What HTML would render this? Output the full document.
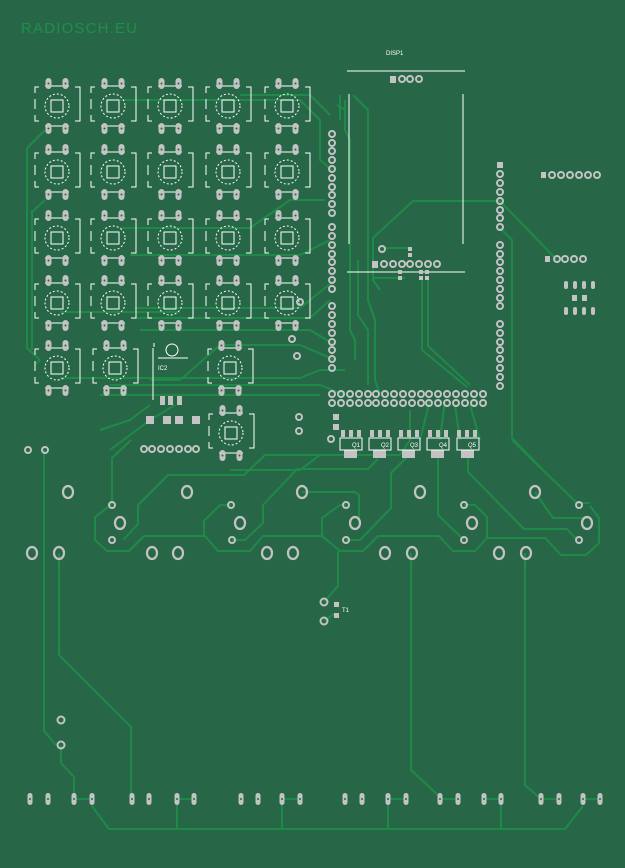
<!DOCTYPE html>
<html><head><meta charset="utf-8"><style>html,body{margin:0;padding:0;background:#276748}svg{display:block}</style></head><body>
<svg width="625" height="868" viewBox="0 0 625 868" xmlns="http://www.w3.org/2000/svg">
<defs>
<g id="sw">
 <g fill="none" stroke="#fff" stroke-width="1">
  <path d="M-18,-19 h-4 v6 M-22,-7 v10 M-22,9 v6 h4 M18,-19 h5 v34 h-5 M-12,20 h24 M-12,-20 h24"/>
  <circle r="12" stroke-dasharray="2,2"/>
  <rect x="-6" y="-6" width="12" height="12"/>
 </g>
 <g fill="#c3c3c3">
  <rect x="-11.5" y="-28" width="6" height="11" rx="3"/><rect x="5.5" y="-28" width="6" height="11" rx="3"/>
  <rect x="-11.5" y="17" width="6" height="11" rx="3"/><rect x="5.5" y="17" width="6" height="11" rx="3"/>
 </g>
 <g fill="#276748"><circle cx="-8.5" cy="-22.5" r="1"/><circle cx="8.5" cy="-22.5" r="1"/><circle cx="-8.5" cy="22.5" r="1"/><circle cx="8.5" cy="22.5" r="1"/></g>
</g>
<g id="p"><circle r="3" fill="none" stroke="#c3c3c3" stroke-width="2"/></g>
<g id="bh"><ellipse rx="5" ry="6" fill="none" stroke="#c3c3c3" stroke-width="2.2"/></g>
<g id="op"><rect x="-2.5" y="-6" width="5" height="12" rx="2.5" fill="#c3c3c3"/><circle r="1" fill="#276748"/></g>
</defs>
<text x="21" y="33" font-family="Liberation Sans, sans-serif" font-size="15" fill="#1f8f48" textLength="116">RADIOSCH.EU</text>

<g fill="none" stroke="#1f8a47" stroke-width="2" stroke-linejoin="round">
 <path d="M27,148 V348 L40,360 M32,210 V350 M45,130 L27,148 M45,200 L32,212"/>
 <path d="M120,100 H300 L320,120 V160 L332,170 M240,95 H310 L330,115"/>
 <path d="M120,228 H250 L290,200 L325,200 M130,255 H300 L330,240"/>
 <path d="M135,318 H310 L330,300 M135,308 H300 L335,280 M60,312 H180 M140,330 L310,330 L335,345"/>
 <path d="M60,378 H300 L320,370 L345,370 M110,385 H320 L345,395 M100,395 H320"/>
 <path d="M150,380 L180,380 L220,345 L300,345 L335,360"/>
 <path d="M345,100 V130 L350,140 V330 L355,340 V360 M340,95 V120 M337,105 L345,110"/>
 <path d="M353,95 L368,110 V300 L375,320 V380 L380,394 M358,260 V315 L368,330 V385"/>
 <path d="M500,201 H413 L373,238 V280 L380,290 M373,278 H405 M500,201 L557,260"/>
 <path d="M500,228 L512,240 V438 L543,470"/>
 <path d="M422,278 V350 L467,387 M428,278 V346 L470,385"/>
 <path d="M385,248 H410"/>
 <path d="M40,360 L35,365 M100,430 L130,420 L150,405 M110,450 L150,420 L175,405"/>
 <path d="M300,455 H400 L410,440 V410 M420,440 L430,400 M440,440 L445,400 M460,440 L455,405 M480,440 L470,405"/>
 <path d="M230,470 H300 L320,455"/>
 <path d="M112,504 V458 L131,440"/>
 <path d="M112,504 L95,517 V540 L107,551 H129 L144,536 H205 L218,551 H250 L263,536 H322 L340,551 H363 L378,536 H439 L453,551 H475 L487,538 H545 L561,555 H586 L599,543 V518 L590,506"/>
 <path d="M123,540 L138,524 V505 L168,475 H244 L265,455 H355"/>
 <path d="M232,540 H245 L263,523 V505 L297,469 H368 L378,459"/>
 <path d="M231,505 H220 L204,521 V536"/>
 <path d="M302,492 H355 L359,495 V520"/>
 <path d="M346,540 H360 L391,508 V473 L408,456"/>
 <path d="M346,505 H340 L322,518 V536"/>
 <path d="M338,551 V586 L324,602 M324,621 L334,614"/>
 <path d="M438,455 V515 L464,540"/>
 <path d="M464,505 H475 L487,517 V538"/>
 <path d="M468,455 V472 L524,529 H567 L577,540"/>
 <path d="M512,440 L577,503 H590"/>
 <path d="M535,492 L553,518 H587"/>
 <path d="M44,450 V731 L56,745"/>
 <path d="M61,745 V763 L74,777 V799"/>
 <path d="M59,553 V655 L131,727 V799"/>
 <path d="M411,553 V770 L440,797"/>
 <path d="M525,553 V785 L541,799"/>
 <path d="M92,806 L109,829 H565 L583,806 M177,799 V829 M282,799 V829 M388,799 V829 M501,799 V829"/>
 <path d="M74,799 H92 M177,799 H194 M282,799 H300 M388,799 H406 M440,799 H458 M484,799 H501 M541,799 H559 M583,799 H600"/>
</g>

<g>
 <use href="#sw" x="57" y="106"/><use href="#sw" x="113" y="106"/><use href="#sw" x="170" y="106"/><use href="#sw" x="228" y="106"/><use href="#sw" x="287" y="106"/>
 <use href="#sw" x="57" y="172"/><use href="#sw" x="113" y="172"/><use href="#sw" x="170" y="172"/><use href="#sw" x="228" y="172"/><use href="#sw" x="287" y="172"/>
 <use href="#sw" x="57" y="238"/><use href="#sw" x="113" y="238"/><use href="#sw" x="170" y="238"/><use href="#sw" x="228" y="238"/><use href="#sw" x="287" y="238"/>
 <use href="#sw" x="57" y="303"/><use href="#sw" x="113" y="303"/><use href="#sw" x="170" y="303"/><use href="#sw" x="228" y="303"/><use href="#sw" x="287" y="303"/>
 <use href="#sw" x="57" y="368"/><use href="#sw" x="115" y="368"/><use href="#sw" x="230" y="368"/><use href="#sw" x="231" y="433"/>
</g>
<g fill="none" stroke="#fff" stroke-width="1">
 <circle cx="172" cy="350" r="6"/><path d="M153,348 V400 M158,358 H188 M154,343 v4"/>
</g>
<text x="158" y="370" font-family="Liberation Sans, sans-serif" font-size="6" fill="#fff">IC2</text>
<g fill="#c3c3c3"><rect x="160" y="396" width="5" height="9"/><rect x="168" y="396" width="5" height="9"/><rect x="177" y="396" width="5" height="9"/>
<rect x="146" y="416" width="8" height="8"/><rect x="163" y="416" width="8" height="8"/><rect x="175" y="416" width="8" height="8"/><rect x="192" y="416" width="8" height="8"/></g>
<g><use href="#p" x="144" y="449"/><use href="#p" x="152" y="449"/><use href="#p" x="161" y="449"/><use href="#p" x="170" y="449"/><use href="#p" x="179" y="449"/><use href="#p" x="188" y="449"/><use href="#p" x="196" y="449"/>
<use href="#p" x="28" y="450"/><use href="#p" x="45" y="450"/><use href="#p" x="299" y="417"/><use href="#p" x="299" y="431"/><use href="#p" x="292" y="339"/><use href="#p" x="297" y="356"/><use href="#p" x="300" y="302"/></g>

<g stroke="#fff" stroke-width="1" fill="none"><path d="M347,71 H465 M349,94 V244 M463,94 V244 M347,272 H465"/></g>
<text x="386" y="55" font-family="Liberation Sans, sans-serif" font-size="6" fill="#fff">DISP1</text>
<rect x="390" y="76" width="6" height="7" fill="#c3c3c3"/>
<g><use href="#p" x="402" y="79"/><use href="#p" x="410" y="79"/><use href="#p" x="419" y="79"/></g>
<rect x="372" y="261" width="6" height="7" fill="#c3c3c3"/>
<g><use href="#p" x="384" y="264"/><use href="#p" x="393" y="264"/><use href="#p" x="402" y="264"/><use href="#p" x="410" y="264"/><use href="#p" x="419" y="264"/><use href="#p" x="428" y="264"/><use href="#p" x="437" y="264"/><use href="#p" x="382" y="249"/></g>
<g fill="#c3c3c3"><rect x="408" y="247" width="4" height="4"/><rect x="408" y="253" width="4" height="4"/><rect x="398" y="270" width="4" height="4"/><rect x="398" y="276" width="4" height="4"/><rect x="419" y="270" width="4" height="4"/><rect x="425" y="270" width="4" height="4"/><rect x="419" y="276" width="4" height="4"/><rect x="425" y="276" width="4" height="4"/></g>

<g>
 <use href="#p" x="332" y="134"/><use href="#p" x="332" y="143"/><use href="#p" x="332" y="151"/><use href="#p" x="332" y="160"/><use href="#p" x="332" y="169"/><use href="#p" x="332" y="178"/><use href="#p" x="332" y="187"/><use href="#p" x="332" y="195"/><use href="#p" x="332" y="204"/><use href="#p" x="332" y="213"/>
 <use href="#p" x="332" y="227"/><use href="#p" x="332" y="236"/><use href="#p" x="332" y="245"/><use href="#p" x="332" y="254"/><use href="#p" x="332" y="262"/><use href="#p" x="332" y="271"/><use href="#p" x="332" y="280"/><use href="#p" x="332" y="289"/>
 <use href="#p" x="332" y="306"/><use href="#p" x="332" y="315"/><use href="#p" x="332" y="324"/><use href="#p" x="332" y="333"/><use href="#p" x="332" y="342"/><use href="#p" x="332" y="350"/><use href="#p" x="332" y="359"/><use href="#p" x="332" y="368"/>
</g>
<rect x="497" y="162" width="6" height="6" fill="#c3c3c3"/>
<g>
 <use href="#p" x="500" y="174"/><use href="#p" x="500" y="183"/><use href="#p" x="500" y="192"/><use href="#p" x="500" y="201"/><use href="#p" x="500" y="210"/><use href="#p" x="500" y="218"/><use href="#p" x="500" y="227"/>
 <use href="#p" x="500" y="245"/><use href="#p" x="500" y="254"/><use href="#p" x="500" y="262"/><use href="#p" x="500" y="271"/><use href="#p" x="500" y="280"/><use href="#p" x="500" y="289"/><use href="#p" x="500" y="298"/><use href="#p" x="500" y="306"/>
 <use href="#p" x="500" y="324"/><use href="#p" x="500" y="333"/><use href="#p" x="500" y="342"/><use href="#p" x="500" y="350"/><use href="#p" x="500" y="359"/><use href="#p" x="500" y="368"/><use href="#p" x="500" y="377"/><use href="#p" x="500" y="386"/>
</g>
<g>
 <use href="#p" x="332" y="394"/><use href="#p" x="341" y="394"/><use href="#p" x="350" y="394"/><use href="#p" x="359" y="394"/><use href="#p" x="368" y="394"/><use href="#p" x="376" y="394"/><use href="#p" x="385" y="394"/><use href="#p" x="394" y="394"/><use href="#p" x="403" y="394"/><use href="#p" x="412" y="394"/><use href="#p" x="421" y="394"/><use href="#p" x="429" y="394"/><use href="#p" x="438" y="394"/><use href="#p" x="447" y="394"/><use href="#p" x="456" y="394"/><use href="#p" x="465" y="394"/><use href="#p" x="474" y="394"/><use href="#p" x="483" y="394"/>
 <use href="#p" x="332" y="403"/><use href="#p" x="341" y="403"/><use href="#p" x="350" y="403"/><use href="#p" x="359" y="403"/><use href="#p" x="368" y="403"/><use href="#p" x="376" y="403"/><use href="#p" x="385" y="403"/><use href="#p" x="394" y="403"/><use href="#p" x="403" y="403"/><use href="#p" x="412" y="403"/><use href="#p" x="421" y="403"/><use href="#p" x="429" y="403"/><use href="#p" x="438" y="403"/><use href="#p" x="447" y="403"/><use href="#p" x="456" y="403"/><use href="#p" x="465" y="403"/><use href="#p" x="474" y="403"/><use href="#p" x="483" y="403"/>
</g>
<g fill="#c3c3c3"><rect x="333" y="414" width="6" height="6"/><rect x="333" y="424" width="6" height="6"/></g>
<use href="#p" x="331" y="439"/>

<g fill="#c3c3c3">
 <rect x="341" y="430" width="4" height="7"/><rect x="349" y="430" width="4" height="7"/><rect x="357" y="430" width="4" height="7"/><rect x="344" y="450" width="13" height="8"/>
 <rect x="370" y="430" width="4" height="7"/><rect x="378" y="430" width="4" height="7"/><rect x="386" y="430" width="4" height="7"/><rect x="373" y="450" width="13" height="8"/>
 <rect x="399" y="430" width="4" height="7"/><rect x="407" y="430" width="4" height="7"/><rect x="415" y="430" width="4" height="7"/><rect x="402" y="450" width="13" height="8"/>
 <rect x="428" y="430" width="4" height="7"/><rect x="436" y="430" width="4" height="7"/><rect x="444" y="430" width="4" height="7"/><rect x="431" y="450" width="13" height="8"/>
 <rect x="457" y="430" width="4" height="7"/><rect x="465" y="430" width="4" height="7"/><rect x="473" y="430" width="4" height="7"/><rect x="461" y="450" width="13" height="8"/>
</g>
<g fill="none" stroke="#fff" stroke-width="1">
 <rect x="340" y="438" width="22" height="12"/><rect x="369" y="438" width="22" height="12"/><rect x="398" y="438" width="22" height="12"/><rect x="427" y="438" width="22" height="12"/><rect x="457" y="438" width="22" height="12"/>
</g>
<g font-family="Liberation Sans, sans-serif" font-size="6" fill="#fff"><text x="352" y="447">Q1</text><text x="381" y="447">Q2</text><text x="410" y="447">Q3</text><text x="439" y="447">Q4</text><text x="468" y="447">Q5</text></g>

<rect x="541" y="172" width="5" height="6" fill="#c3c3c3"/>
<g><use href="#p" x="552" y="175"/><use href="#p" x="561" y="175"/><use href="#p" x="570" y="175"/><use href="#p" x="579" y="175"/><use href="#p" x="588" y="175"/><use href="#p" x="597" y="175"/></g>
<rect x="545" y="256" width="5" height="6" fill="#c3c3c3"/>
<g><use href="#p" x="557" y="259"/><use href="#p" x="565" y="259"/><use href="#p" x="574" y="259"/><use href="#p" x="583" y="259"/></g>
<g fill="#c3c3c3"><rect x="564" y="281" width="4" height="8" rx="2"/><rect x="573" y="281" width="4" height="8" rx="2"/><rect x="582" y="281" width="4" height="8" rx="2"/><rect x="591" y="281" width="4" height="8" rx="2"/>
<rect x="564" y="307" width="4" height="8" rx="2"/><rect x="573" y="307" width="4" height="8" rx="2"/><rect x="582" y="307" width="4" height="8" rx="2"/><rect x="591" y="307" width="4" height="8" rx="2"/>
<rect x="572" y="295" width="5" height="6"/><rect x="582" y="295" width="5" height="6"/></g>

<g>
 <use href="#bh" x="68" y="492"/><use href="#bh" x="187" y="492"/><use href="#bh" x="302" y="492"/><use href="#bh" x="420" y="492"/><use href="#bh" x="535" y="492"/>
 <use href="#bh" x="120" y="523"/><use href="#bh" x="240" y="523"/><use href="#bh" x="355" y="523"/><use href="#bh" x="472" y="523"/><use href="#bh" x="587" y="523"/>
 <use href="#bh" x="32" y="553"/><use href="#bh" x="59" y="553"/><use href="#bh" x="152" y="553"/><use href="#bh" x="178" y="553"/><use href="#bh" x="267" y="553"/><use href="#bh" x="293" y="553"/><use href="#bh" x="385" y="553"/><use href="#bh" x="412" y="553"/><use href="#bh" x="499" y="553"/><use href="#bh" x="526" y="553"/>
 <use href="#p" x="112" y="505"/><use href="#p" x="231" y="505"/><use href="#p" x="346" y="505"/><use href="#p" x="464" y="505"/><use href="#p" x="579" y="505"/>
 <use href="#p" x="112" y="540"/><use href="#p" x="232" y="540"/><use href="#p" x="346" y="540"/><use href="#p" x="464" y="540"/><use href="#p" x="579" y="540"/>
</g>
<g fill="none" stroke="#c3c3c3" stroke-width="2"><circle cx="324" cy="602" r="3.5"/><circle cx="324" cy="621" r="3.5"/><circle cx="61" cy="720" r="3.5"/><circle cx="61" cy="745" r="3.5"/></g>
<g fill="#c3c3c3"><rect x="334" y="602" width="5" height="5"/><rect x="334" y="613" width="5" height="5"/></g>
<text x="342" y="612" font-family="Liberation Sans, sans-serif" font-size="6" fill="#fff">T1</text>

<g>
 <use href="#op" x="30" y="799"/><use href="#op" x="48" y="799"/><use href="#op" x="74" y="799"/><use href="#op" x="92" y="799"/><use href="#op" x="132" y="799"/><use href="#op" x="149" y="799"/><use href="#op" x="177" y="799"/><use href="#op" x="194" y="799"/>
 <use href="#op" x="241" y="799"/><use href="#op" x="258" y="799"/><use href="#op" x="282" y="799"/><use href="#op" x="300" y="799"/><use href="#op" x="345" y="799"/><use href="#op" x="362" y="799"/><use href="#op" x="388" y="799"/><use href="#op" x="406" y="799"/>
 <use href="#op" x="440" y="799"/><use href="#op" x="458" y="799"/><use href="#op" x="484" y="799"/><use href="#op" x="501" y="799"/><use href="#op" x="541" y="799"/><use href="#op" x="559" y="799"/><use href="#op" x="583" y="799"/><use href="#op" x="600" y="799"/>
</g>
</svg>
</body></html>
